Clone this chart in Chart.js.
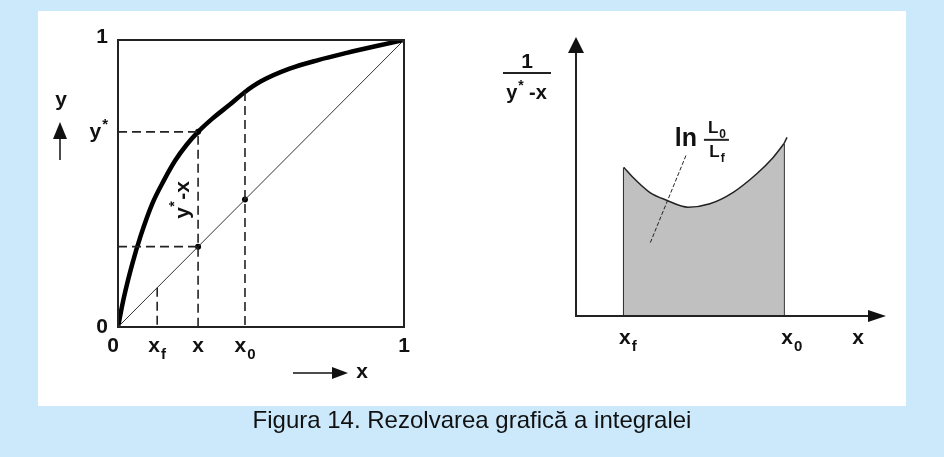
<!DOCTYPE html>
<html>
<head>
<meta charset="utf-8">
<script src="https://cdn.jsdelivr.net/npm/chart.js@4.4.1/dist/chart.umd.min.js"></script>
<style>
  html, body { margin: 0; padding: 0; }
  body { width: 944px; height: 457px; background: #cce9fc; position: relative; overflow: hidden; }
  #panel { position: absolute; left: 38px; top: 11px; width: 868px; height: 395px; background: #fff; }
  canvas { position: absolute; left: 0; top: 0; }
  #caption { position: absolute; left: 0; top: 406px; width: 944px; text-align: center;
    font: 24px "Liberation Sans", Arial, sans-serif; color: #111; }
</style>
</head>
<body>
<div id="panel"></div>
<canvas id="equilibrium" width="944" height="457"></canvas>
<canvas id="integral" width="944" height="457"></canvas>
<div id="caption">Figura 14. Rezolvarea grafică a integralei</div>
<script>
// equilibrium curve y* = f(x)
const EQ_X = [0, 0.02, 0.05, 0.08, 0.12, 0.16, 0.2, 0.24, 0.28, 0.33, 0.39, 0.444, 0.5, 0.6, 0.7, 0.8, 0.9, 1];
const EQ_Y = [0, 0.10, 0.22, 0.32, 0.43, 0.51, 0.58, 0.635, 0.68, 0.726, 0.774, 0.819, 0.856, 0.9, 0.93, 0.955, 0.978, 1];

// marked compositions: x_f, x, x_0
const X_F = 0.137;
const X_MID = 0.28;
const X_0 = 0.444;
const Y_STAR = 0.68;   // y* at x
const Y_AT_X0 = 0.819; // y* at x_0

const X_TICKS = [0, X_F, X_MID, X_0, 1];
const X_TICK_MAIN = ['0', 'x', 'x', 'x', '1'];
const X_TICK_SUB = ['', 'f', '', '0', ''];
const Y_TICKS = [0, Y_STAR, 1];
const Y_TICK_MAIN = ['0', 'y', '1'];
const Y_TICK_SUP = ['', '*', ''];

// 1/(y*-x) between x_f and x_0
const INV_X = [0.137, 0.154, 0.187, 0.219, 0.26, 0.302, 0.346, 0.392, 0.423, 0.444];
const INV_Y = [2.13, 1.99, 1.77, 1.66, 1.56, 1.61, 1.77, 2.04, 2.27, 2.47];
const INV_TAIL_X = [0.444, 0.45];
const INV_TAIL_Y = [2.47, 2.56];

const FONT = '"Liberation Sans", Arial, sans-serif';
const INK = '#111';

const pts = (xs, ys) => xs.map((v, i) => ({ x: v, y: ys[i] }));

function drawLabel(ctx, main, sub, sup, px, py, align, size = 21) {
  const small = Math.round(size * 0.72);
  ctx.font = `bold ${size}px ${FONT}`;
  const wMain = ctx.measureText(main).width;
  ctx.font = `bold ${small}px ${FONT}`;
  const wSub = sub ? ctx.measureText(sub).width + 1 : 0;
  const wSup = sup ? ctx.measureText(sup).width + 1 : 0;
  const total = wMain + Math.max(wSub, wSup);
  let left = px;
  if (align === 'center') left = px - total / 2;
  if (align === 'right') left = px - total;
  ctx.textAlign = 'left';
  ctx.textBaseline = 'middle';
  ctx.font = `bold ${size}px ${FONT}`;
  ctx.fillText(main, left, py);
  ctx.font = `bold ${small}px ${FONT}`;
  if (sub) ctx.fillText(sub, left + wMain + 1, py + size * 0.4);
  if (sup) ctx.fillText(sup, left + wMain + 1, py - size * 0.35);
}

function arrowHead(ctx, tipX, tipY, dir, len, half) {
  ctx.beginPath();
  if (dir === 'up') {
    ctx.moveTo(tipX, tipY);
    ctx.lineTo(tipX - half, tipY + len);
    ctx.lineTo(tipX + half, tipY + len);
  } else {
    ctx.moveTo(tipX, tipY);
    ctx.lineTo(tipX - len, tipY - half);
    ctx.lineTo(tipX - len, tipY + half);
  }
  ctx.closePath();
  ctx.fill();
}

const equilibriumDecor = {
  id: 'equilibriumDecor',
  afterDatasetsDraw(chart) {
    const { ctx, chartArea: a, scales: { x, y } } = chart;
    ctx.save();
    ctx.strokeStyle = '#222';
    ctx.lineWidth = 2;
    ctx.strokeRect(a.left, a.top, a.right - a.left, a.bottom - a.top);

    ctx.fillStyle = INK;
    X_TICKS.forEach((v, i) =>
      drawLabel(ctx, X_TICK_MAIN[i], X_TICK_SUB[i], '', x.getPixelForValue(v) - (v === 0 ? 5 : 0), a.bottom + 19, 'center'));
    Y_TICKS.forEach((v, i) =>
      drawLabel(ctx, Y_TICK_MAIN[i], '', Y_TICK_SUP[i], a.left - 10, y.getPixelForValue(v) - (v === 1 ? 3 : 0), 'right'));

    // axis name y with arrow
    drawLabel(ctx, 'y', '', '', a.left - 57, 100, 'center');
    ctx.lineWidth = 1.5;
    ctx.strokeStyle = INK;
    ctx.beginPath();
    ctx.moveTo(a.left - 58, 160);
    ctx.lineTo(a.left - 58, 135);
    ctx.stroke();
    arrowHead(ctx, a.left - 58, 122, 'up', 17, 7);

    // axis name x with arrow
    ctx.beginPath();
    ctx.moveTo(a.right - 111, a.bottom + 46);
    ctx.lineTo(a.right - 70, a.bottom + 46);
    ctx.stroke();
    arrowHead(ctx, a.right - 56, a.bottom + 46, 'right', 16, 6);
    drawLabel(ctx, 'x', '', '', a.right - 42, a.bottom + 45, 'center');

    // driving force y*-x, written along the vertical at x
    ctx.translate(x.getPixelForValue(X_MID) - 15, y.getPixelForValue(0.45));
    ctx.rotate(-Math.PI / 2);
    drawLabel(ctx, 'y', '', '', -15, 0, 'center');
    ctx.font = `bold 14px ${FONT}`;
    ctx.fillText('*', -9, -8);
    ctx.font = `bold 21px ${FONT}`;
    ctx.fillText('-x', -2, 0);
    ctx.restore();
  }
};

const dashed = (data) => ({
  data, showLine: true, borderColor: '#222', borderWidth: 1.6, borderDash: [9, 5],
  pointRadius: 0, fill: false
});

new Chart(document.getElementById('equilibrium'), {
  type: 'scatter',
  data: {
    datasets: [
      dashed([{ x: 0, y: Y_STAR }, { x: X_MID, y: Y_STAR }, { x: X_MID, y: 0 }]),
      dashed([{ x: 0, y: X_MID }, { x: X_MID, y: X_MID }]),
      dashed([{ x: X_0, y: Y_AT_X0 }, { x: X_0, y: 0 }]),
      dashed([{ x: X_F, y: X_F }, { x: X_F, y: 0 }]),
      {
        data: [{ x: 0, y: 0 }, { x: 1, y: 1 }],
        showLine: true, borderColor: '#333', borderWidth: 1, pointRadius: 0
      },
      {
        data: pts(EQ_X, EQ_Y),
        showLine: true, borderColor: '#000', borderWidth: 4.5, pointRadius: 0,
        cubicInterpolationMode: 'monotone', borderJoinStyle: 'round', borderCapStyle: 'round'
      },
      {
        data: [{ x: X_MID, y: Y_STAR }, { x: X_MID, y: X_MID }, { x: X_0, y: X_0 }],
        showLine: false, pointRadius: 3, backgroundColor: '#000', borderWidth: 0
      }
    ]
  },
  options: {
    responsive: false,
    animation: false,
    devicePixelRatio: 1,
    events: [],
    layout: { padding: { left: 118, top: 40, right: 540, bottom: 130 } },
    plugins: { legend: { display: false }, tooltip: { enabled: false } },
    scales: {
      x: { type: 'linear', display: false, min: 0, max: 1 },
      y: { type: 'linear', display: false, min: 0, max: 1 }
    },
    elements: { line: { clip: false } }
  },
  plugins: [equilibriumDecor]
});

const integralDecor = {
  id: 'integralDecor',
  afterDatasetsDraw(chart) {
    const { ctx, chartArea: a, scales: { x, y } } = chart;
    ctx.save();
    ctx.strokeStyle = '#222';
    ctx.fillStyle = INK;
    ctx.lineWidth = 2;
    // axes with arrow heads
    ctx.beginPath();
    ctx.moveTo(a.left, a.top + 12);
    ctx.lineTo(a.left, a.bottom);
    ctx.lineTo(a.right - 12, a.bottom);
    ctx.stroke();
    arrowHead(ctx, a.left, a.top, 'up', 16, 8);
    arrowHead(ctx, a.right, a.bottom, 'right', 18, 6);

    // ordinate title 1/(y*-x)
    const cx = a.left - 49;
    drawLabel(ctx, '1', '', '', cx, 62, 'center');
    ctx.beginPath();
    ctx.moveTo(cx - 24, 73);
    ctx.lineTo(cx + 24, 73);
    ctx.stroke();
    drawLabel(ctx, 'y', '', '*', cx - 12, 93, 'center', 20);
    drawLabel(ctx, '-x', '', '', cx + 11, 93, 'center', 20);

    // abscissa labels
    drawLabel(ctx, 'x', 'f', '', x.getPixelForValue(X_F) + 4, a.bottom + 22, 'center');
    drawLabel(ctx, 'x', '0', '', x.getPixelForValue(X_0) + 8, a.bottom + 22, 'center');
    drawLabel(ctx, 'x', '', '', a.right - 28, a.bottom + 22, 'center');

    // area label ln(L0/Lf) with leader line
    ctx.lineWidth = 1;
    ctx.setLineDash([4, 2]);
    ctx.beginPath();
    ctx.moveTo(x.getPixelForValue(0.256), y.getPixelForValue(2.3));
    ctx.lineTo(x.getPixelForValue(0.187), y.getPixelForValue(1.04));
    ctx.stroke();
    ctx.setLineDash([]);
    const lx = x.getPixelForValue(0.256);
    const ly = y.getPixelForValue(2.54);
    drawLabel(ctx, 'ln', '', '', lx, ly, 'center', 25);
    ctx.lineWidth = 2;
    ctx.beginPath();
    ctx.moveTo(lx + 18, ly + 1);
    ctx.lineTo(lx + 43, ly + 1);
    ctx.stroke();
    drawLabel(ctx, 'L', '0', '', lx + 31, ly - 11, 'center', 17);
    drawLabel(ctx, 'L', 'f', '', lx + 31, ly + 13, 'center', 17);
    ctx.restore();
  }
};

new Chart(document.getElementById('integral'), {
  type: 'scatter',
  data: {
    datasets: [
      {
        data: pts(INV_X, INV_Y),
        showLine: true, fill: 'origin', backgroundColor: '#c0c0c0',
        borderColor: '#222', borderWidth: 1.5, pointRadius: 0,
        cubicInterpolationMode: 'monotone'
      },
      {
        data: pts(INV_TAIL_X, INV_TAIL_Y),
        showLine: true, borderColor: '#222', borderWidth: 1.5, pointRadius: 0
      },
      {
        data: [{ x: X_F, y: 0 }, { x: X_F, y: INV_Y[0] }],
        showLine: true, borderColor: '#333', borderWidth: 2, pointRadius: 0
      },
      {
        data: [{ x: X_0, y: 0 }, { x: X_0, y: INV_Y[INV_Y.length - 1] }],
        showLine: true, borderColor: '#333', borderWidth: 2, pointRadius: 0
      }
    ]
  },
  options: {
    responsive: false,
    animation: false,
    devicePixelRatio: 1,
    events: [],
    layout: { padding: { left: 576, top: 37, right: 58, bottom: 141 } },
    plugins: { legend: { display: false }, tooltip: { enabled: false } },
    scales: {
      x: { type: 'linear', display: false, min: 0.045, max: 0.64 },
      y: { type: 'linear', display: false, min: 0, max: 4 }
    },
    elements: { line: { clip: false } }
  },
  plugins: [integralDecor]
});
</script>
</body>
</html>
